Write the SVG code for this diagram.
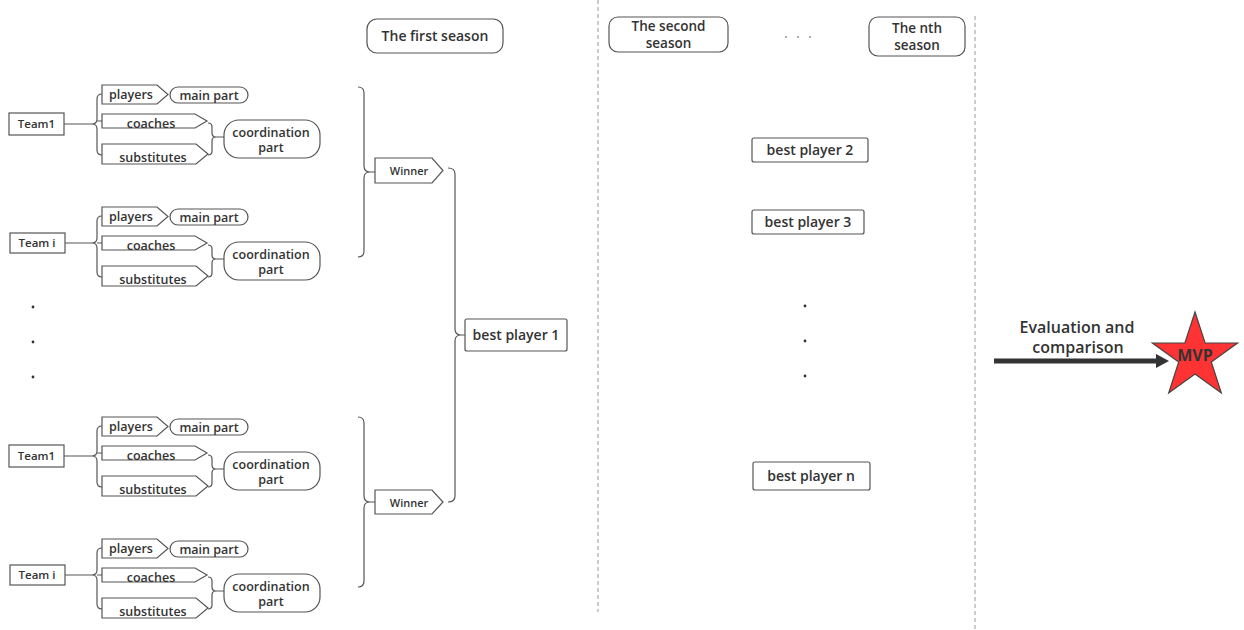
<svg xmlns="http://www.w3.org/2000/svg" width="1244" height="630" viewBox="0 0 1244 630">
<defs>
<style>
text{font-family:"Open Sans","Noto Sans","DejaVu Sans",sans-serif;font-weight:600;fill:#333;text-anchor:middle}
.s{fill:#fff;stroke:#555;stroke-width:1.2}
.c{fill:none;stroke:#555;stroke-width:1.2}
.d{fill:none;stroke:#999;stroke-width:1;stroke-dasharray:4 3}
.t11{font-size:11px}
.tm{font-size:11.5px}
.t12{font-size:12.5px}
.t13{font-size:13.5px}
.t14{font-size:14px}
.dot{fill:#333}
</style>
</defs>
<rect width="1244" height="630" fill="#fff"/>

<!-- dashed separators -->
<line class="d" x1="598" y1="0" x2="598" y2="612"/>
<line class="d" x1="975" y1="16" x2="975" y2="630"/>

<!-- Block 1 -->
<g id="block1">
<g id="team1a"><rect class="s" x="9" y="113" width="55" height="22"/><text class="tm" x="36.5" y="128">Team1</text></g>
<g id="players1"><polygon class="s" points="102,85 157,85 168,94.5 157,104 102,104"/><text class="t12" x="131" y="99">players</text></g>
<g id="main1"><rect class="s" x="170" y="87" width="78" height="16" rx="8"/><text class="t12" x="209" y="99.5">main part</text></g>
<g id="coaches1"><polygon class="s" points="102,114 195,114 207,121 195,128 102,128"/><text class="t12" x="151" y="127.5">coaches</text></g>
<g id="subs1"><polygon class="s" points="102,144 196,144 208,154 196,164 102,164"/><text class="t12" x="153" y="161.5">substitutes</text></g>
<g id="coord1"><rect class="s" x="224" y="120" width="96" height="38" rx="15"/><text class="t12" x="271" y="137">coordination</text><text class="t12" x="271" y="152">part</text></g>
</g>

<g id="block2">
<g id="team2a"><rect class="s" x="10" y="233" width="55" height="20"/><text class="tm" x="37" y="247">Team i</text></g>
<g id="players2"><polygon class="s" points="102,207 157,207 168,216.5 157,226 102,226"/><text class="t12" x="131" y="221">players</text></g>
<g id="main2"><rect class="s" x="170" y="209" width="78" height="16" rx="8"/><text class="t12" x="209" y="221.5">main part</text></g>
<g id="coaches2"><polygon class="s" points="102,236 195,236 207,243 195,250 102,250"/><text class="t12" x="151" y="249.5">coaches</text></g>
<g id="subs2"><polygon class="s" points="102,266 196,266 208,276 196,286 102,286"/><text class="t12" x="153" y="283.5">substitutes</text></g>
<g id="coord2"><rect class="s" x="224" y="242" width="96" height="38" rx="15"/><text class="t12" x="271" y="259">coordination</text><text class="t12" x="271" y="274">part</text></g>
</g>

<g id="block3">
<g id="team3a"><rect class="s" x="9" y="445" width="55" height="22"/><text class="tm" x="36.5" y="460">Team1</text></g>
<g id="players3"><polygon class="s" points="102,417 157,417 168,426.5 157,436 102,436"/><text class="t12" x="131" y="431">players</text></g>
<g id="main3"><rect class="s" x="170" y="419" width="78" height="16" rx="8"/><text class="t12" x="209" y="431.5">main part</text></g>
<g id="coaches3"><polygon class="s" points="102,446 195,446 207,453 195,460 102,460"/><text class="t12" x="151" y="459.5">coaches</text></g>
<g id="subs3"><polygon class="s" points="102,476 196,476 208,486 196,496 102,496"/><text class="t12" x="153" y="493.5">substitutes</text></g>
<g id="coord3"><rect class="s" x="224" y="452" width="96" height="38" rx="15"/><text class="t12" x="271" y="469">coordination</text><text class="t12" x="271" y="484">part</text></g>
</g>

<g id="block4">
<g id="team4a"><rect class="s" x="10" y="565" width="55" height="20"/><text class="tm" x="37" y="579">Team i</text></g>
<g id="players4"><polygon class="s" points="102,539 157,539 168,548.5 157,558 102,558"/><text class="t12" x="131" y="553">players</text></g>
<g id="main4"><rect class="s" x="170" y="541" width="78" height="16" rx="8"/><text class="t12" x="209" y="553.5">main part</text></g>
<g id="coaches4"><polygon class="s" points="102,568 195,568 207,575 195,582 102,582"/><text class="t12" x="151" y="581.5">coaches</text></g>
<g id="subs4"><polygon class="s" points="102,598 196,598 208,608 196,618 102,618"/><text class="t12" x="153" y="615.5">substitutes</text></g>
<g id="coord4"><rect class="s" x="224" y="574" width="96" height="38" rx="15"/><text class="t12" x="271" y="591">coordination</text><text class="t12" x="271" y="606">part</text></g>
</g>

<!-- Dots -->
<g id="dotsLeft"><circle class="dot" cx="33" cy="307" r="1.4"/><circle class="dot" cx="33" cy="342" r="1.4"/><circle class="dot" cx="33" cy="377" r="1.4"/></g>

<!-- Winners and best player 1 -->
<g id="winner1"><polygon class="s" points="375,158 432,158 443,170.5 432,183 375,183"/><text class="t11" x="409" y="175">Winner</text></g>
<g id="winner2"><polygon class="s" points="375,490 432,490 443,502 432,514 375,514"/><text class="t11" x="409" y="506.5">Winner</text></g>
<g id="best1"><rect class="s" x="465" y="319" width="102" height="32" rx="2"/><text class="t14" x="516" y="340">best player 1</text></g>

<!-- Seasons -->
<g id="season1"><rect class="s" x="367" y="19" width="136" height="34" rx="10"/><text class="t14" x="435" y="41">The first season</text></g>
<g id="season2"><rect class="s" x="609" y="17" width="119" height="35" rx="9"/><text class="t13" x="668.5" y="31">The second</text><text class="t13" x="668.5" y="47.5">season</text></g>
<g id="seasonDots"><circle cx="786" cy="37" r="1.1" fill="#999"/><circle cx="798" cy="37" r="1.1" fill="#999"/><circle cx="810" cy="37" r="1.1" fill="#999"/></g>
<g id="seasonN"><rect class="s" x="869" y="17" width="96" height="39" rx="9"/><text class="t13" x="917" y="32.5">The nth</text><text class="t13" x="917" y="49.5">season</text></g>

<g id="best2"><rect class="s" x="752" y="138" width="116" height="24" rx="2"/><text class="t14" x="810" y="155">best player 2</text></g>
<g id="best3"><rect class="s" x="752" y="210" width="112" height="24" rx="2"/><text class="t14" x="808" y="227">best player 3</text></g>
<g id="dotsRight"><circle class="dot" cx="805" cy="306" r="1.4"/><circle class="dot" cx="805" cy="341" r="1.4"/><circle class="dot" cx="805" cy="376" r="1.4"/></g>
<g id="bestN"><rect class="s" x="753" y="462" width="117" height="28" rx="2"/><text class="t14" x="811" y="481">best player n</text></g>

<!-- MVP -->
<g id="evalLabel"><text x="1077" y="333" style="font-size:16px">Evaluation and</text><text x="1078" y="353" style="font-size:16px">comparison</text></g>
<g id="mvp"><polygon points="1195,312 1205.1,343 1237.6,343 1211.3,362 1221.3,393 1195,374 1168.7,393 1178.7,362 1152.4,343 1184.9,343" fill="#f33" stroke="#444" stroke-width="1.2"/><text x="1195" y="361" style="font-size:16px;font-weight:700">MVP</text></g>

<!-- Connectors -->
<g id="connectors">
<g id="conn1">
<path class="c" d="M64,124 H92 Q97,124 97,119 V99 Q97,94 102,94 M92,124 Q97,124 97,129 V150 Q97,155 102,155 M97,121 H102"/>
<path class="c" d="M208,123 Q212,123 212,127 V133 Q212,137 216,137 H224 M216,137 Q212,137 212,141 V151 Q212,155 208,155"/>
</g>
<g id="conn2">
<path class="c" d="M65,243 H92 Q97,243 97,238 V221 Q97,216 102,216 M92,243 Q97,243 97,248 V272 Q97,277 102,277 M97,243 H102"/>
<path class="c" d="M208,245 Q212,245 212,249 V255 Q212,259 216,259 H224 M216,259 Q212,259 212,263 V273 Q212,277 208,277"/>
</g>
<g id="conn3">
<path class="c" d="M64,456 H92 Q97,456 97,451 V431 Q97,426 102,426 M92,456 Q97,456 97,461 V482 Q97,487 102,487 M97,453 H102"/>
<path class="c" d="M208,455 Q212,455 212,459 V465 Q212,469 216,469 H224 M216,469 Q212,469 212,473 V483 Q212,487 208,487"/>
</g>
<g id="conn4">
<path class="c" d="M65,575 H92 Q97,575 97,570 V553 Q97,548 102,548 M92,575 Q97,575 97,580 V604 Q97,609 102,609 M97,575 H102"/>
<path class="c" d="M208,577 Q212,577 212,581 V587 Q212,591 216,591 H224 M216,591 Q212,591 212,595 V605 Q212,609 208,609"/>
</g>
<path class="c" d="M358,87 Q364,87 364,93 V166 Q364,172 370,172 H375 M370,172 Q364,172 364,178 V251 Q364,257 358,257"/>
<path class="c" d="M358,417 Q364,417 364,423 V496 Q364,502 370,502 H375 M370,502 Q364,502 364,508 V581 Q364,587 358,587"/>
<path class="c" d="M448,168 Q455,168 455,174 V329 Q455,335 461,335 H465 M461,335 Q455,335 455,341 V496 Q455,502 448,502"/>
<g id="evalArrow"><line x1="994" y1="361" x2="1158" y2="361" stroke="#333" stroke-width="5"/><polygon points="1156,354 1169,361 1156,368" fill="#333"/></g>
</g>
</svg>
